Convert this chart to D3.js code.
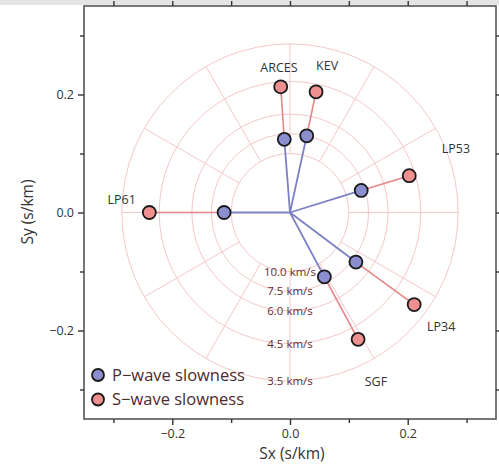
<!DOCTYPE html>
<html><head><meta charset="utf-8">
<script src="https://cdn.jsdelivr.net/npm/d3@7"></script>
<style>
html,body{margin:0;padding:0;background:#fff;}
text{font-family:"Open Sans","Noto Sans",sans-serif;}
</style></head>
<body><svg id="c" width="499" height="466"></svg>
<script>
// ---- data ----
const stations = ["ARCES","KEV","LP53","LP61","LP34","SGF"];
const pSx = [-0.0097, 0.0284, 0.121, -0.112, 0.112, 0.0584];
const pSy = [0.124, 0.130, 0.0374, 0.0, -0.084, -0.109];
const sSx = [-0.0158, 0.0443, 0.2026, -0.239, 0.211, 0.1157];
const sSy = [0.213, 0.2046, 0.0624, 0.0, -0.156, -0.215];
const labelSx = [-0.0187, 0.063, 0.282, -0.286, 0.257, 0.146];
const labelSy = [0.245, 0.249, 0.109, 0.022, -0.194, -0.286];
const velocities = [10.0, 7.5, 6.0, 4.5, 3.5];
const velocityLabels = ["10.0 km/s","7.5 km/s","6.0 km/s","4.5 km/s","3.5 km/s"];
const spokeAngles = [0,30,60,90,120,150,180,210,240,270,300,330];
const xTicks = [-0.2, 0.0, 0.2];
const xMinor = [-0.3,-0.1,0.1,0.3];
const yTicks = [-0.2, 0.0, 0.2];
const yMinor = [-0.3,-0.1,0.1,0.3];
const legendLabels = ["P\u2212wave slowness","S\u2212wave slowness"];

// ---- layout ----
const svg = d3.select("#c");
const x = d3.scaleLinear().domain([-0.35,0.35]).range([84,496]);
const y = d3.scaleLinear().domain([-0.35,0.35]).range([419,6]);
const pColor = "#8b8fd0", sColor = "#ef9090";
const pLine = "#7c80c4", sLine = "#e58585";
const grid = "#f4c8c8";

// top grey band
svg.append("rect").attr("x",0).attr("y",0).attr("width",499).attr("height",5).attr("fill","#e4e4e4");

const g = svg.append("g");
// rings
const radii = velocities.map(v=>1/v);
g.selectAll("ellipse.ring").data(radii).enter().append("ellipse")
  .attr("cx",x(0)).attr("cy",y(0))
  .attr("rx",d=>x(d)-x(0)).attr("ry",d=>y(0)-y(d))
  .attr("fill","none").attr("stroke",grid).attr("stroke-width",1);
// spokes
const rIn = d3.min(radii), rOut = d3.max(radii);
g.selectAll("line.spoke").data(spokeAngles).enter().append("line")
  .attr("x1",a=>x(rIn*Math.cos(a*Math.PI/180)))
  .attr("y1",a=>y(rIn*Math.sin(a*Math.PI/180)))
  .attr("x2",a=>x(rOut*Math.cos(a*Math.PI/180)))
  .attr("y2",a=>y(rOut*Math.sin(a*Math.PI/180)))
  .attr("stroke",grid).attr("stroke-width",1);
// ring labels
g.selectAll("text.rl").data(velocityLabels).enter().append("text")
  .attr("x",x(0)).attr("y",(d,i)=>y(-radii[i]))
  .attr("dy","0.35em").attr("text-anchor","middle")
  .attr("font-size",11.5).attr("fill","#6a2a2c").text(d=>d);

// lines
const idx = d3.range(stations.length);
g.selectAll("line.pl").data(idx).enter().append("line")
  .attr("x1",x(0)).attr("y1",y(0))
  .attr("x2",i=>x(pSx[i])).attr("y2",i=>y(pSy[i]))
  .attr("stroke",pLine).attr("stroke-width",1.8);
g.selectAll("line.sl").data(idx).enter().append("line")
  .attr("x1",i=>x(pSx[i])).attr("y1",i=>y(pSy[i]))
  .attr("x2",i=>x(sSx[i])).attr("y2",i=>y(sSy[i]))
  .attr("stroke",sLine).attr("stroke-width",1.6);
// points
g.selectAll("circle.p").data(idx).enter().append("circle")
  .attr("cx",i=>x(pSx[i])).attr("cy",i=>y(pSy[i])).attr("r",6.5)
  .attr("fill",pColor).attr("stroke","#1a1a1a").attr("stroke-width",1.8);
g.selectAll("circle.s").data(idx).enter().append("circle")
  .attr("cx",i=>x(sSx[i])).attr("cy",i=>y(sSy[i])).attr("r",6.5)
  .attr("fill",sColor).attr("stroke","#1a1a1a").attr("stroke-width",1.8);
// station labels
g.selectAll("text.st").data(idx).enter().append("text")
  .attr("x",i=>x(labelSx[i])).attr("y",i=>y(labelSy[i]))
  .attr("dy","0.35em").attr("text-anchor","middle")
  .attr("font-size",12.5).attr("fill","#333").text(i=>stations[i]);

// legend
const leg = svg.append("g");
legendLabels.forEach((t,i)=>{
  leg.append("circle").attr("cx",98).attr("cy",375+i*24.5).attr("r",6)
    .attr("fill",i===0?pColor:sColor).attr("stroke","#1a1a1a").attr("stroke-width",1.8);
  leg.append("text").attr("x",112).attr("y",375+i*24.5).attr("dy","0.35em")
    .attr("font-size",16.5).attr("fill","#4e2a2e").text(t);
});

// frame
svg.append("rect").attr("x",84).attr("y",6).attr("width",412).attr("height",413)
  .attr("fill","none").attr("stroke","#555").attr("stroke-width",1.6);

// axes
function styleAxis(sel){
  sel.select(".domain").remove();
  sel.selectAll(".tick line").attr("stroke","#333").attr("stroke-width",1.4);
  sel.selectAll(".tick text").attr("font-size",12.5).attr("fill","#333")
    .attr("font-family","'Open Sans','Noto Sans',sans-serif");
}
const fmt = d3.format(".1f");
const minus = d=>fmt(d).replace("-","\u2212");
svg.append("g").attr("transform","translate(0,419)")
  .call(d3.axisBottom(x).tickValues(xTicks).tickFormat(minus).tickSize(6).tickPadding(4)).call(styleAxis);
svg.append("g").attr("transform","translate(0,419)")
  .call(d3.axisBottom(x).tickValues(xMinor).tickFormat("").tickSize(4)).call(styleAxis);
svg.append("g").attr("transform","translate(84,0)")
  .call(d3.axisLeft(y).tickValues(yTicks).tickFormat(minus).tickSize(6).tickPadding(4)).call(styleAxis);
svg.append("g").attr("transform","translate(84,0)")
  .call(d3.axisLeft(y).tickValues(yMinor).tickFormat("").tickSize(4)).call(styleAxis);
svg.append("g").attr("transform","translate(0,6)")
  .call(d3.axisTop(x).tickValues(xTicks.concat(xMinor)).tickFormat("").tickSize(5)).call(styleAxis);
svg.append("g").attr("transform","translate(496,0)")
  .call(d3.axisRight(y).tickValues(yTicks.concat(yMinor)).tickFormat("").tickSize(5)).call(styleAxis);

// axis titles
svg.append("text").attr("x",292).attr("y",454).attr("dy","0.35em").attr("text-anchor","middle")
  .attr("font-size",15.5).attr("fill","#333").text("Sx (s/km)");
svg.append("text").attr("transform","translate(28,212) rotate(-90)").attr("dy","0.35em")
  .attr("text-anchor","middle").attr("font-size",15.5).attr("fill","#333").text("Sy (s/km)");
</script></body></html>
